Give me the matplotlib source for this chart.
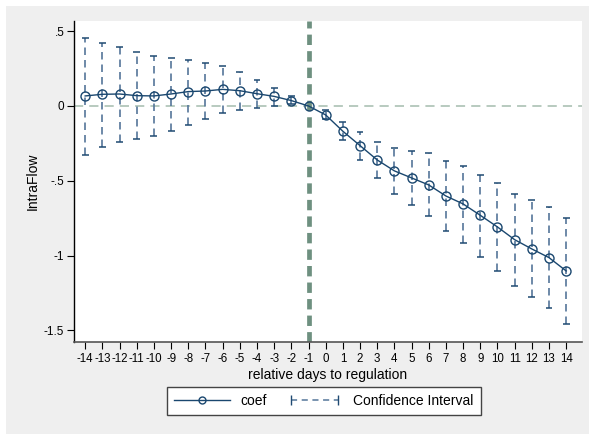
import matplotlib
matplotlib.use("Agg")
import matplotlib.pyplot as plt
from matplotlib.lines import Line2D
from matplotlib.patches import Rectangle
from matplotlib.legend_handler import HandlerLine2D
from matplotlib.ticker import FixedLocator

plt.rcParams["font.family"] = ["Liberation Sans", "DejaVu Sans"]

# ---------------------------------------------------------------------------
# Data
# ---------------------------------------------------------------------------
days = list(range(-14, 15))
coef = [0.067, 0.078, 0.080, 0.069, 0.067, 0.080, 0.096, 0.100, 0.111, 0.102,
        0.082, 0.064, 0.036, 0.0,
        -0.060, -0.169, -0.265, -0.361, -0.434, -0.481, -0.528, -0.602,
        -0.655, -0.731, -0.809, -0.894, -0.956, -1.014, -1.103]
ci_hi = [0.456, 0.420, 0.396, 0.359, 0.332, 0.319, 0.310, 0.285, 0.265, 0.230,
         0.176, 0.122, 0.065, None,
         -0.027, -0.107, -0.176, -0.238, -0.281, -0.299, -0.316, -0.366,
         -0.399, -0.459, -0.517, -0.586, -0.631, -0.677, -0.751]
ci_lo = [-0.328, -0.272, -0.238, -0.218, -0.200, -0.165, -0.127, -0.089,
         -0.047, -0.027, -0.016, 0.000, 0.013, None,
         -0.089, -0.229, -0.359, -0.484, -0.590, -0.664, -0.737, -0.838,
         -0.914, -1.007, -1.101, -1.201, -1.279, -1.352, -1.457]
event_day = -1

y_ticks = [0.5, 0, -0.5, -1, -1.5]
y_tick_labels = [".5", "0", "-.5", "-1", "-1.5"]

# ---------------------------------------------------------------------------
# Style
# ---------------------------------------------------------------------------
COL_COEF = "#1a476f"
COL_CI = "#55769a"
COL_CAP = "#1f4a72"
COL_VLINE = "#6e9080"
COL_HLINE = "#a4bcae"
BG = "#efefef"

W, H = 589, 434
fig = plt.figure(figsize=(W / 100, H / 100), dpi=100, facecolor="white")
fig.patches.append(Rectangle((6 / W, 0), 1 - 6 / W, 1 - 6 / H,
                             transform=fig.transFigure, facecolor=BG,
                             edgecolor="none", zorder=-10))

# plot region in pixels: x 74..582, y 21..342 (from top)
ax = fig.add_axes([74 / W, 1 - 342 / H, (582 - 74) / W, (342 - 21) / H])
ax.set_facecolor("white")
ax.set_xlim(-14.65, 14.92)
ax.set_ylim(-1.578, 0.568)

# reference lines
ax.axhline(0, color=COL_HLINE, linestyle=(0, (6, 4)), linewidth=1.1, zorder=1)
ax.axvline(event_day, color=COL_VLINE, linestyle=(0, (2.2, 1.3)),
           linewidth=3.4, zorder=2)

# confidence intervals (dashed rcap)
cx = [d for d, h in zip(days, ci_hi) if h is not None]
chi = [h for h in ci_hi if h is not None]
clo = [l for l in ci_lo if l is not None]
ax.vlines(cx, clo, chi, colors=COL_CI, linestyles=(0, (4.5, 3)),
          linewidth=1.2, zorder=3)
ax.hlines(chi, [x - 0.2 for x in cx], [x + 0.2 for x in cx],
          colors=COL_CAP, linewidth=1.1, zorder=3)
ax.hlines(clo, [x - 0.2 for x in cx], [x + 0.2 for x in cx],
          colors=COL_CAP, linewidth=1.1, zorder=3)

# coefficients
ax.plot(days, coef, color=COL_COEF, linewidth=1.0, marker="o",
        markersize=6.5, markerfacecolor="none", markeredgecolor=COL_COEF,
        markeredgewidth=1.0, zorder=4)

# axes styling
for side in ("top", "right"):
    ax.spines[side].set_visible(False)
ax.spines["left"].set_color("black")
ax.spines["bottom"].set_color("#555555")
ax.spines["left"].set_linewidth(1.0)
ax.spines["bottom"].set_linewidth(1.2)

ax.yaxis.set_major_locator(FixedLocator(y_ticks))
ax.set_yticklabels(y_tick_labels)
ax.set_xticks(days)
ax.set_xticklabels([str(d) for d in days])
ax.tick_params(axis="both", direction="out", length=5, width=0.8,
               labelsize=8.5, colors="black", pad=2)
ax.tick_params(axis="x", labelsize=8.3, pad=3)

ax.set_xlabel("relative days to regulation", fontsize=10, labelpad=2)
ax.set_ylabel("IntraFlow", fontsize=10, labelpad=3)

# legend
h_coef = Line2D([], [], color=COL_COEF, linewidth=1.0, marker="o",
                markersize=5, markerfacecolor="none",
                markeredgecolor=COL_COEF)
h_ci = Line2D([], [], color=COL_CI, linewidth=1.1, linestyle=(0, (4, 3)),
              marker="|", markersize=7, markeredgecolor=COL_CAP)
fig.legend([h_coef, h_ci], ["coef", "Confidence Interval"],
           loc="center", bbox_to_anchor=(324 / W, 1 - 401 / H), ncol=2,
           fontsize=10, frameon=True, fancybox=False, framealpha=1,
           edgecolor="#444444", handlelength=4.0, columnspacing=1.4,
           handletextpad=0.8, borderpad=0.5, numpoints=1,
           handler_map={h_ci: HandlerLine2D(numpoints=2)})

fig.savefig("out.png", dpi=100, facecolor=fig.get_facecolor())
